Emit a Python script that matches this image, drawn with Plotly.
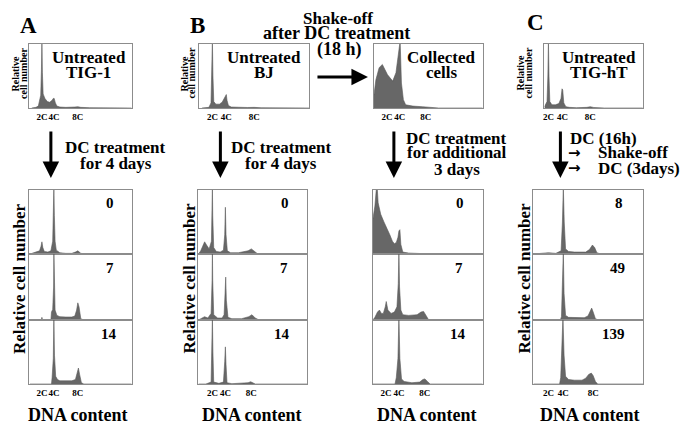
import plotly.graph_objects as go

# ---------------- data (DNA content in C units, relative cell number 0-1) ----------------
tig1_untreated_x = [0.3, 1.0, 1.4, 1.8, 1.92, 2.0, 2.08, 2.2, 2.5, 2.9, 3.3, 3.7, 3.9, 4.05, 4.25, 4.5, 5.0, 6.0, 7.5, 8.0, 8.5, 10.0, 17.0]
tig1_untreated_y = [0.0, 0.01, 0.03, 0.2, 0.6, 1.05, 0.55, 0.22, 0.15, 0.1, 0.09, 0.12, 0.15, 0.15, 0.08, 0.03, 0.015, 0.01, 0.015, 0.02, 0.01, 0.005, 0.0]

bj_untreated_x = [0.5, 1.5, 1.8, 1.92, 2.0, 2.08, 2.2, 2.5, 3.0, 3.4, 3.7, 3.9, 4.0, 4.1, 4.3, 4.7, 5.5, 7.0, 8.0, 9.0, 15.9]
bj_untreated_y = [0.0, 0.01, 0.08, 0.5, 1.05, 0.5, 0.1, 0.06, 0.06, 0.09, 0.14, 0.19, 0.21, 0.12, 0.04, 0.015, 0.01, 0.008, 0.01, 0.004, 0.0]

collected_x = [0.0, 0.3, 0.8, 1.3, 2.1, 2.9, 3.4, 3.75, 4.05, 4.25, 4.55, 4.9, 6.0, 7.5, 9.0, 10.0, 16.8]
collected_y = [0.2, 0.44, 0.63, 0.68, 0.52, 0.42, 0.55, 0.8, 1.05, 0.39, 0.13, 0.05, 0.03, 0.02, 0.01, 0.0, 0.0]

tight_untreated_x = [1.43, 1.8, 1.92, 2.0, 2.08, 2.2, 2.5, 3.0, 3.5, 3.8, 3.95, 4.05, 4.2, 4.5, 5.0, 6.0, 7.5, 8.0, 8.5, 10.0, 15.5]
tight_untreated_y = [0.02, 0.1, 0.5, 1.05, 0.5, 0.1, 0.05, 0.05, 0.07, 0.15, 0.3, 0.28, 0.08, 0.02, 0.01, 0.005, 0.01, 0.02, 0.008, 0.0, 0.0]

tig1_0_x = [0.0, 1.0, 1.6, 1.85, 2.0, 2.15, 2.4, 3.0, 3.5, 3.8, 3.92, 4.0, 4.08, 4.2, 4.4, 5.0, 6.0, 7.0, 7.6, 8.0, 8.5, 9.5, 17.0]
tig1_0_y = [0.0, 0.03, 0.05, 0.12, 0.19, 0.1, 0.04, 0.03, 0.05, 0.2, 0.6, 1.05, 0.6, 0.2, 0.06, 0.02, 0.01, 0.01, 0.03, 0.05, 0.01, 0.0, 0.0]
tig1_7_x = [0.0, 1.9, 2.0, 2.1, 3.5, 3.6, 3.8, 3.95, 4.0, 4.05, 4.2, 4.5, 5.0, 6.0, 7.0, 7.5, 7.8, 8.0, 8.2, 8.5, 9.0, 17.0]
tig1_7_y = [0.0, 0.0, 0.04, 0.0, 0.0, 0.12, 0.16, 0.5, 1.05, 0.5, 0.15, 0.07, 0.05, 0.045, 0.045, 0.06, 0.15, 0.26, 0.2, 0.02, 0.0, 0.0]
tig1_14_x = [0.0, 3.6, 3.7, 3.9, 4.0, 4.1, 4.3, 4.6, 5.0, 6.0, 7.0, 7.6, 7.9, 8.1, 8.3, 8.6, 9.0, 17.0]
tig1_14_y = [0.0, 0.0, 0.1, 0.4, 1.05, 0.45, 0.12, 0.07, 0.05, 0.045, 0.05, 0.07, 0.18, 0.25, 0.15, 0.02, 0.0, 0.0]

bj_0_x = [-0.15, 0.2, 0.5, 0.8, 1.1, 1.5, 1.85, 1.95, 2.0, 2.05, 2.2, 2.6, 3.2, 3.7, 3.9, 4.0, 4.1, 4.3, 4.8, 6.0, 7.5, 8.0, 8.5, 9.0, 16.6]
bj_0_y = [0.0, 0.05, 0.12, 0.19, 0.14, 0.08, 0.2, 0.7, 1.05, 0.6, 0.1, 0.04, 0.03, 0.06, 0.3, 0.73, 0.3, 0.05, 0.02, 0.02, 0.05, 0.08, 0.04, 0.0, 0.0]
bj_7_x = [-0.15, 0.3, 0.8, 1.3, 1.8, 1.95, 2.0, 2.05, 2.2, 2.8, 3.5, 3.8, 3.95, 4.05, 4.15, 4.4, 5.0, 6.5, 7.6, 8.1, 8.6, 9.2, 16.6]
bj_7_y = [0.0, 0.03, 0.05, 0.03, 0.1, 0.6, 1.05, 0.6, 0.08, 0.03, 0.03, 0.08, 0.4, 0.65, 0.3, 0.04, 0.02, 0.02, 0.05, 0.08, 0.03, 0.0, 0.0]
bj_14_x = [-0.15, 1.0, 1.8, 1.92, 2.0, 2.08, 2.2, 3.0, 3.7, 3.9, 4.0, 4.1, 4.25, 5.0, 7.5, 7.9, 8.2, 8.6, 16.6]
bj_14_y = [0.0, 0.0, 0.03, 0.5, 1.05, 0.5, 0.03, 0.01, 0.03, 0.35, 0.58, 0.3, 0.02, 0.005, 0.02, 0.035, 0.02, 0.0, 0.0]

coll_0_x = [0.0, 0.3, 0.55, 0.65, 0.8, 1.2, 1.7, 2.2, 2.6, 3.0, 3.3, 3.6, 3.85, 4.0, 4.15, 4.3, 4.6, 5.5, 7.0, 8.5, 9.0, 16.9]
coll_0_y = [0.55, 0.75, 1.05, 1.05, 0.8, 0.62, 0.5, 0.4, 0.3, 0.2, 0.16, 0.18, 0.26, 0.36, 0.38, 0.15, 0.03, 0.015, 0.01, 0.01, 0.0, 0.0]
coll_7_x = [0.0, 0.3, 0.7, 1.0, 1.3, 1.6, 1.9, 2.05, 2.3, 2.8, 3.3, 3.7, 3.9, 4.0, 4.1, 4.3, 4.6, 5.5, 6.8, 7.4, 7.8, 8.2, 8.6, 16.9]
coll_7_y = [0.0, 0.04, 0.12, 0.15, 0.1, 0.1, 0.2, 0.28, 0.15, 0.1, 0.12, 0.2, 0.55, 1.05, 0.5, 0.15, 0.08, 0.07, 0.08, 0.12, 0.13, 0.06, 0.0, 0.0]
coll_14_x = [0.0, 3.4, 3.6, 3.85, 4.0, 4.15, 4.4, 4.8, 6.0, 7.2, 7.7, 8.0, 8.4, 8.8, 16.9]
coll_14_y = [0.0, 0.0, 0.1, 0.4, 1.05, 0.4, 0.08, 0.04, 0.02, 0.03, 0.07, 0.08, 0.04, 0.0, 0.0]

tight_8_x = [0.0, 1.5, 2.0, 3.0, 3.7, 3.88, 4.0, 4.12, 4.3, 4.7, 5.5, 7.0, 7.5, 7.9, 8.2, 8.5, 9.0, 14.7]
tight_8_y = [0.0, 0.01, 0.02, 0.01, 0.05, 0.5, 1.05, 0.5, 0.08, 0.04, 0.03, 0.03, 0.07, 0.14, 0.1, 0.02, 0.0, 0.0]
tight_49_x = [0.0, 3.6, 3.75, 3.9, 4.0, 4.1, 4.3, 4.7, 5.5, 6.8, 7.3, 7.6, 7.8, 8.0, 8.3, 8.7, 14.7]
tight_49_y = [0.0, 0.0, 0.05, 0.5, 1.05, 0.4, 0.07, 0.04, 0.035, 0.035, 0.06, 0.14, 0.18, 0.12, 0.02, 0.0, 0.0]
tight_139_x = [0.0, 3.5, 3.65, 3.8, 3.95, 4.1, 4.3, 4.7, 5.5, 6.5, 7.0, 7.4, 7.75, 8.0, 8.3, 8.6, 14.7]
tight_139_y = [0.0, 0.0, 0.1, 0.5, 1.05, 0.45, 0.12, 0.07, 0.06, 0.06, 0.09, 0.15, 0.17, 0.13, 0.04, 0.0, 0.0]

tick_vals = [2, 4, 8]
tick_text = ["2C", "4C", "8C"]
panel_letters = ["A", "B", "C"]
top_titles = [["Untreated", "TIG-1"], ["Untreated", "BJ"], ["Collected", "cells"], ["Untreated", "TIG-hT"]]
counts_a = ["0", "7", "14"]
counts_b = ["0", "7", "14"]
counts_coll = ["0", "7", "14"]
counts_c = ["8", "49", "139"]

# ---------------- layout ----------------
# page has an 8px body margin, so the figure is 692x430 and starts at (8, 8)
OFF = 8
W, H = 692, 430
FONT = "Liberation Serif, Times New Roman, serif"
FILL = "#676767"
BORDER = "#8c8c8c"

def px(x):
    return (x - OFF) / W

def py(y):
    return 1 - (y - OFF) / H

# (x data, y data, left px, right px, top px, bottom px, x range, tick labels)
panels = [
    (tig1_untreated_x, tig1_untreated_y, 27, 130, 44, 108, [-0.17, 17.0], True),
    (bj_untreated_x, bj_untreated_y, 198, 308, 44, 108, [0.14, 15.9], True),
    (collected_x, collected_y, 373, 482, 44, 108, [0.0, 16.8], True),
    (tight_untreated_x, tight_untreated_y, 544, 643, 44, 108, [1.43, 15.57], True),
    (tig1_0_x, tig1_0_y, 27, 130, 190, 254, [-0.17, 17.0], False),
    (tig1_7_x, tig1_7_y, 27, 130, 254, 320, [-0.17, 17.0], False),
    (tig1_14_x, tig1_14_y, 27, 130, 320, 384, [-0.17, 17.0], True),
    (bj_0_x, bj_0_y, 197, 306, 190, 254, [-0.15, 16.6], False),
    (bj_7_x, bj_7_y, 197, 306, 254, 320, [-0.15, 16.6], False),
    (bj_14_x, bj_14_y, 197, 306, 320, 384, [-0.15, 16.6], True),
    (coll_0_x, coll_0_y, 372, 482, 190, 254, [0.0, 16.9], False),
    (coll_7_x, coll_7_y, 372, 482, 254, 320, [0.0, 16.9], False),
    (coll_14_x, coll_14_y, 372, 482, 320, 384, [0.0, 16.9], True),
    (tight_8_x, tight_8_y, 533, 643, 190, 254, [0.0, 14.7], False),
    (tight_49_x, tight_49_y, 533, 643, 254, 320, [0.0, 14.7], False),
    (tight_139_x, tight_139_y, 533, 643, 320, 384, [0.0, 14.7], True),
]

fig = go.Figure()
layout = dict(
    width=W, height=H, margin=dict(l=0, r=0, t=0, b=0),
    paper_bgcolor="white", plot_bgcolor="white", showlegend=False,
    font=dict(family=FONT, color="black"),
)

for i, (xs, ys, l, r, t, b, xr, show) in enumerate(panels, start=1):
    xa = "x" if i == 1 else f"x{i}"
    ya = "y" if i == 1 else f"y{i}"
    fig.add_trace(go.Scatter(
        x=xs, y=ys, mode="lines", fill="tozeroy",
        fillcolor=FILL, line=dict(color="#5a5a5a", width=0.6),
        xaxis=xa, yaxis=ya, hoverinfo="skip",
    ))
    key = "" if i == 1 else str(i)
    layout["xaxis" + key] = dict(
        domain=[px(l), px(r)], range=xr, anchor=ya,
        showgrid=False, zeroline=False, showline=True, mirror=True,
        linecolor=BORDER, linewidth=1, ticks="",
        tickvals=tick_vals, ticktext=[f"<b>{t_}</b>" for t_ in tick_text],
        showticklabels=show, tickangle=0,
        tickfont=dict(family=FONT, size=9, color="black"),
    )
    layout["yaxis" + key] = dict(
        domain=[py(b), py(t)], range=[0, 1.0], anchor=xa,
        showgrid=False, zeroline=False, showline=True, mirror=True,
        linecolor=BORDER, linewidth=1, ticks="", showticklabels=False,
    )

ann = []

def text(s, x, y, size, angle=0, xanchor="center", family=FONT):
    ann.append(dict(text=f"<b>{s}</b>", x=px(x), y=py(y), xref="paper", yref="paper",
                    showarrow=False, xanchor=xanchor, yanchor="middle",
                    textangle=angle, font=dict(family=family, size=size, color="black")))

def arrow(x0, y0, x1, y1):
    ann.append(dict(text="", x=px(x1), y=py(y1), xref="paper", yref="paper",
                    ax=x0 - x1, ay=y0 - y1, showarrow=True, arrowhead=2,
                    arrowsize=1.1, arrowwidth=3, arrowcolor="black"))

# panel letters
text(panel_letters[0], 27, 26, 23)
text(panel_letters[1], 196, 25, 23)
text(panel_letters[2], 535, 23, 23)

# top panel titles
for (l1, l2), cx in zip(top_titles, [87, 263, 441, 599]):
    text(l1, cx, 57, 17)
    text(l2, cx, 72, 17)

# top y labels
for x1, x2 in [(13.5, 21), (183, 190), (519, 527)]:
    text("Relative", x1, 73, 10, angle=-90)
    text("cell number", x2, 73, 10, angle=-90)

# shake-off text and arrow
text("Shake-off", 337, 18, 17)
text("after DC treatment", 335, 33, 18)
text("(18 h)", 338, 49, 18)
arrow(315, 77, 367, 77)

# vertical arrows
for x in [49, 219, 393, 560]:
    arrow(x, 130, x, 178)

text("DC treatment", 114, 147, 17)
text("for 4 days", 114, 163, 17)
text("DC treatment", 280, 147, 17)
text("for 4 days", 280, 163, 17)
text("DC treatment", 456, 138, 17)
text("for additional", 456, 153, 17)
text("3 days", 456, 169, 17)
text("DC (16h)", 568, 138, 17, xanchor="left")
text("\u2192", 566, 153, 15, xanchor="left", family="DejaVu Sans")
text("Shake-off", 596, 153, 17, xanchor="left")
text("\u2192", 566, 168, 15, xanchor="left", family="DejaVu Sans")
text("DC (3days)", 596, 168, 17, xanchor="left")

# counts in bottom panels
for labels, xs_ in [(counts_a, [108, 108, 107]), (counts_b, [284, 283, 281]),
                    (counts_coll, [459, 458, 457]), (counts_c, [619, 617, 613])]:
    for lab, x, y in zip(labels, xs_, [203, 268, 334]):
        text(lab, x, y, 15)

# bottom y labels
for x in [17, 188, 523]:
    text("Relative cell number", x, 278, 17, angle=-90)

# x titles
for x in [76.5, 251, 426, 590]:
    text("DNA content", x, 415, 18)

layout["annotations"] = ann
fig.update_layout(**layout)
fig.write_html("out.html")
